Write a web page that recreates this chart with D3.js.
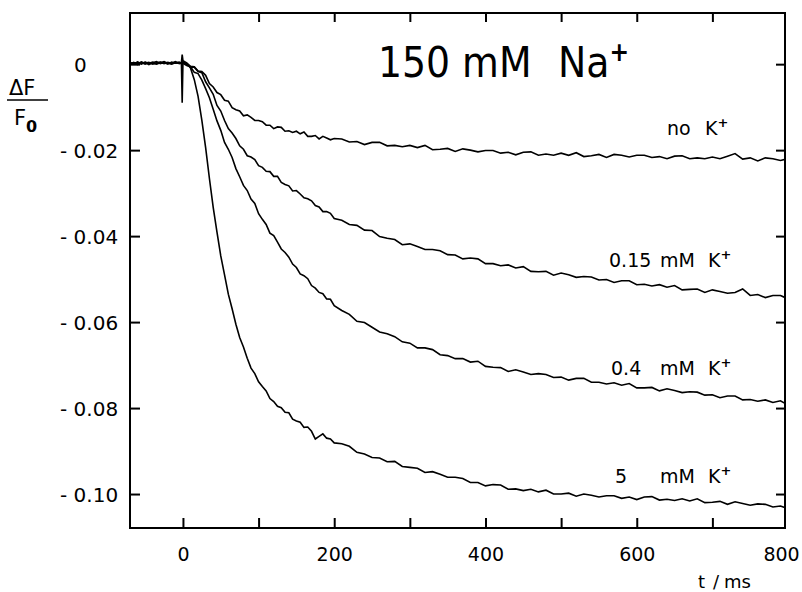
<!DOCTYPE html>
<html>
<head>
<meta charset="utf-8">
<script src="https://cdn.jsdelivr.net/npm/d3@7"></script>
<style>
  body { margin: 0; background: #fff; }
  svg text { font-family: "DejaVu Sans", sans-serif; fill: #000; }
  .trace { fill: none; stroke: #000; stroke-width: 1.6; stroke-linejoin: miter; }
</style>
</head>
<body>
<svg id="chart" width="802" height="592"></svg>
<script>
// time axis of the recorded traces (ms)
var timeMs = [-70,-65,-60,-55,-50,-45,-40,-35,-30,-25,-20,-15,-10,-5,-2,-1,0,
  5,10,15,20,25,30,35,40,45,50,55,60,65,70,75,80,85,90,95,100,
  105,110,115,120,125,130,135,140,145,150,155,160,165,170,175,180,185,190,195,200,
  210,220,230,240,250,260,270,280,290,300,
  310,320,330,340,350,360,370,380,390,400,
  410,420,430,440,450,460,470,480,490,500,
  510,520,530,540,550,560,570,580,590,600,
  610,620,630,640,650,660,670,680,690,700,
  710,720,730,740,750,760,770,780,790,800];

// dF/F0, no K+
var noK = [0.0004,0.0000,0.0005,0.0001,0.0004,-0.0001,0.0003,0.0006,0.0001,0.0004,0.0000,0.0005,0.0002,0.0003,0.0004,0.0022,0.0008,
  0.0003,-0.0005,-0.0006,-0.0016,-0.0017,-0.0026,-0.0045,-0.0053,-0.0066,-0.0071,
  -0.0084,-0.0086,-0.0101,-0.0106,-0.0109,-0.0120,-0.0118,-0.0124,-0.0131,-0.0131,
  -0.0134,-0.0142,-0.0142,-0.0150,-0.0146,-0.0147,-0.0156,-0.0155,-0.0159,-0.0156,
  -0.0162,-0.0158,-0.0168,-0.0168,-0.0166,-0.0174,-0.0168,-0.0172,-0.0176,-0.0173,
  -0.0174,-0.0181,-0.0180,-0.0187,-0.0182,-0.0182,-0.0190,-0.0189,-0.0192,-0.0189,
  -0.0194,-0.0189,-0.0199,-0.0198,-0.0196,-0.0203,-0.0197,-0.0200,-0.0204,-0.0201,
  -0.0201,-0.0207,-0.0205,-0.0211,-0.0205,-0.0204,-0.0212,-0.0209,-0.0212,-0.0207,
  -0.0212,-0.0206,-0.0215,-0.0213,-0.0210,-0.0217,-0.0210,-0.0212,-0.0216,-0.0212,
  -0.0212,-0.0217,-0.0215,-0.0220,-0.0214,-0.0213,-0.0220,-0.0218,-0.0220,-0.0216,
  -0.0220,-0.0214,-0.0208,-0.0221,-0.0218,-0.0225,-0.0218,-0.0220,-0.0224,-0.0220];

// 0.15 mM K+
var k015 = [0.0001,0.0004,-0.0001,0.0005,0.0002,0.0004,0.0000,0.0003,0.0005,0.0001,0.0004,0.0002,0.0006,0.0001,0.0003,0.0004,0.0006,
  -0.0001,-0.0007,-0.0007,-0.0017,-0.0020,-0.0041,-0.0055,-0.0070,-0.0096,-0.0109,
  -0.0131,-0.0150,-0.0160,-0.0173,-0.0190,-0.0198,-0.0213,-0.0216,-0.0222,-0.0236,
  -0.0240,-0.0249,-0.0250,-0.0261,-0.0261,-0.0275,-0.0280,-0.0283,-0.0295,-0.0294,
  -0.0302,-0.0311,-0.0313,-0.0318,-0.0329,-0.0332,-0.0343,-0.0343,-0.0347,-0.0359,
  -0.0363,-0.0373,-0.0375,-0.0386,-0.0387,-0.0401,-0.0405,-0.0408,-0.0420,-0.0418,
  -0.0424,-0.0431,-0.0431,-0.0434,-0.0443,-0.0444,-0.0453,-0.0451,-0.0453,-0.0464,
  -0.0464,-0.0469,-0.0467,-0.0474,-0.0471,-0.0482,-0.0483,-0.0482,-0.0491,-0.0486,
  -0.0490,-0.0496,-0.0494,-0.0495,-0.0502,-0.0501,-0.0508,-0.0504,-0.0504,-0.0513,
  -0.0512,-0.0516,-0.0513,-0.0519,-0.0515,-0.0525,-0.0524,-0.0523,-0.0531,-0.0525,
  -0.0529,-0.0533,-0.0531,-0.0523,-0.0538,-0.0536,-0.0543,-0.0538,-0.0538,-0.0546];

// 0.4 mM K+
var k04 = [0.0003,0.0001,0.0004,0.0000,0.0005,0.0002,0.0005,0.0001,0.0003,0.0006,0.0002,0.0001,0.0004,0.0002,0.0001,0.0003,0.0002,
  -0.0003,-0.0006,-0.0019,-0.0022,-0.0037,-0.0057,-0.0078,-0.0105,-0.0132,-0.0154,
  -0.0182,-0.0198,-0.0217,-0.0243,-0.0262,-0.0282,-0.0294,-0.0314,-0.0324,-0.0348,
  -0.0361,-0.0373,-0.0393,-0.0399,-0.0414,-0.0430,-0.0438,-0.0449,-0.0465,-0.0473,
  -0.0488,-0.0492,-0.0499,-0.0515,-0.0521,-0.0531,-0.0534,-0.0546,-0.0547,-0.0562,
  -0.0573,-0.0582,-0.0598,-0.0601,-0.0612,-0.0623,-0.0627,-0.0634,-0.0646,-0.0649,
  -0.0660,-0.0660,-0.0664,-0.0676,-0.0678,-0.0685,-0.0685,-0.0693,-0.0691,-0.0703,
  -0.0705,-0.0706,-0.0715,-0.0711,-0.0716,-0.0722,-0.0720,-0.0722,-0.0729,-0.0728,
  -0.0735,-0.0731,-0.0731,-0.0740,-0.0740,-0.0744,-0.0741,-0.0747,-0.0743,-0.0753,
  -0.0753,-0.0752,-0.0760,-0.0755,-0.0759,-0.0764,-0.0762,-0.0763,-0.0770,-0.0769,
  -0.0776,-0.0772,-0.0772,-0.0781,-0.0780,-0.0784,-0.0781,-0.0787,-0.0783,-0.0793];

// 5 mM K+
var k5 = [0.0000,0.0003,0.0002,0.0004,0.0000,0.0003,0.0002,0.0000,0.0004,0.0002,0.0003,0.0000,0.0003,0.0005,0.0002,-0.0090,0.0004,
  0.0001,-0.0009,-0.0036,-0.0075,-0.0131,-0.0194,-0.0266,-0.0333,-0.0391,-0.0446,
  -0.0490,-0.0535,-0.0569,-0.0605,-0.0636,-0.0658,-0.0684,-0.0707,-0.0720,-0.0739,
  -0.0750,-0.0760,-0.0778,-0.0785,-0.0796,-0.0799,-0.0810,-0.0811,-0.0826,-0.0830,
  -0.0833,-0.0845,-0.0844,-0.0854,-0.0872,-0.0866,-0.0860,-0.0870,-0.0872,-0.0881,
  -0.0883,-0.0889,-0.0903,-0.0907,-0.0915,-0.0916,-0.0925,-0.0924,-0.0936,-0.0938,
  -0.0940,-0.0950,-0.0948,-0.0954,-0.0961,-0.0961,-0.0964,-0.0973,-0.0973,-0.0981,
  -0.0978,-0.0979,-0.0989,-0.0988,-0.0992,-0.0989,-0.0995,-0.0991,-0.1000,-0.1000,
  -0.0998,-0.1005,-0.1000,-0.1003,-0.1007,-0.1004,-0.1004,-0.1010,-0.1007,-0.1013,
  -0.1007,-0.1006,-0.1014,-0.1012,-0.1015,-0.1011,-0.1016,-0.1011,-0.1020,-0.1019,
  -0.1017,-0.1024,-0.1018,-0.1022,-0.1026,-0.1023,-0.1024,-0.1030,-0.1028,-0.1034];

var xTicks = [0, 100, 200, 300, 400, 500, 600, 700];
var xLabels = [0, 200, 400, 600, 800];
var yTicks = [0, -0.02, -0.04, -0.06, -0.08, -0.10];
var traceNames = ["no", "0.15", "0.4", "5"];

var margin = {top: 13, right: 17, bottom: 64, left: 130},
    width = 802 - margin.left - margin.right,
    height = 592 - margin.top - margin.bottom;

var svg = d3.select("#chart")
  .append("g")
    .attr("transform", "translate(" + margin.left + "," + margin.top + ")");

var x = d3.scaleLinear().domain([-70, 796]).range([0, width]);
var y = d3.scaleLinear().domain([-0.1079, 0.0119]).range([height, 0]);

svg.append("clipPath").attr("id", "plotclip")
  .append("rect").attr("width", width).attr("height", height);

/** traces **/
var line = d3.line()
  .x(function(d, i) { return x(timeMs[i]); })
  .y(function(d) { return y(d); });

[noK, k015, k04, k5].forEach(function(series) {
  svg.append("path")
    .attr("class", "trace")
    .attr("clip-path", "url(#plotclip)")
    .attr("d", line(series));
});

/** ticks on all four sides, pointing inward **/
function styleTicks(g) {
  g.select(".domain").remove();
  g.selectAll(".tick line").attr("stroke", "#000").attr("stroke-width", 2);
}

svg.append("g")
  .attr("transform", "translate(0," + height + ")")
  .call(d3.axisBottom(x).tickValues(xTicks).tickSize(-10).tickFormat(""))
  .call(styleTicks);

svg.append("g")
  .call(d3.axisTop(x).tickValues(xTicks).tickSize(-9).tickFormat(""))
  .call(styleTicks);

svg.append("g")
  .attr("transform", "translate(" + width + ",0)")
  .call(d3.axisRight(y).tickValues(yTicks).tickSize(-9).tickFormat(""))
  .call(styleTicks);

var yAxisG = svg.append("g")
  .call(d3.axisLeft(y).tickValues(yTicks).tickSize(-10)
    .tickFormat(function(d) { return d === 0 ? "0" : "- " + Math.abs(d).toFixed(2); }))
  .call(styleTicks);

yAxisG.selectAll(".tick text")
  .attr("font-family", null).attr("font-size", null)
  .style("font-size", "20px")
  .attr("text-anchor", "start")
  .attr("x", function(d) { return d === 0 ? -56 : -70; })
  .attr("dy", "0.36em");

var xAxisG = svg.append("g")
  .attr("transform", "translate(0," + height + ")")
  .call(d3.axisBottom(x).tickValues(xLabels).tickSize(0).tickPadding(20))
  .call(function(g) { g.select(".domain").remove(); });

xAxisG.selectAll(".tick text")
  .attr("font-family", null).attr("font-size", null)
  .style("font-size", "19px")
  .attr("dx", function(d) { return d === 800 ? -7 : 0; });

/** frame **/
svg.append("rect")
  .attr("width", width).attr("height", height)
  .attr("fill", "none").attr("stroke", "#000").attr("stroke-width", 2);

/** trace labels **/
var labelPos = [
  {num: 667, mM: null, K: 705, base: 135},
  {num: 609, mM: 660, K: 708, base: 267},
  {num: 611, mM: 660, K: 708, base: 375},
  {num: 615, mM: 660, K: 708, base: 483}
];

var root = d3.select("#chart");
traceNames.forEach(function(name, i) {
  var p = labelPos[i];
  var t = root.append("text").style("font-size", "19px").attr("y", p.base);
  t.append("tspan").attr("x", p.num).text(name);
  if (p.mM !== null) t.append("tspan").attr("x", p.mM).text("mM");
  t.append("tspan").attr("x", p.K).text("K");
  t.append("tspan").attr("dy", -8).style("font-size", "13px").style("font-weight", "bold").text("+");
});

/** title **/
var title = root.append("text").attr("y", 77)
  .style("font-family", "'DejaVu Sans Condensed', 'DejaVu Sans', sans-serif")
  .style("font-size", "42px");
title.append("tspan").attr("x", 378).text("150 mM");
title.append("tspan").attr("x", 558).text("Na");
title.append("tspan").attr("dy", -16).style("font-size", "26px").style("font-weight", "bold").text("+");

/** axis titles **/
root.append("text").attr("x", 9).attr("y", 95).style("font-size", "21px").text("\u0394F");
root.append("line").attr("x1", 7).attr("x2", 48).attr("y1", 100).attr("y2", 100)
  .attr("stroke", "#000").attr("stroke-width", 1.5);
var f0 = root.append("text").attr("x", 14).attr("y", 125).style("font-size", "21px");
f0.append("tspan").text("F");
f0.append("tspan").attr("dy", 7).style("font-size", "16px").style("font-weight", "bold").text("0");

var tms = root.append("text").attr("y", 588).style("font-size", "18px");
tms.append("tspan").attr("x", 698).text("t");
tms.append("tspan").attr("x", 713).text("/");
tms.append("tspan").attr("x", 724).text("ms");
</script>
</body>
</html>
